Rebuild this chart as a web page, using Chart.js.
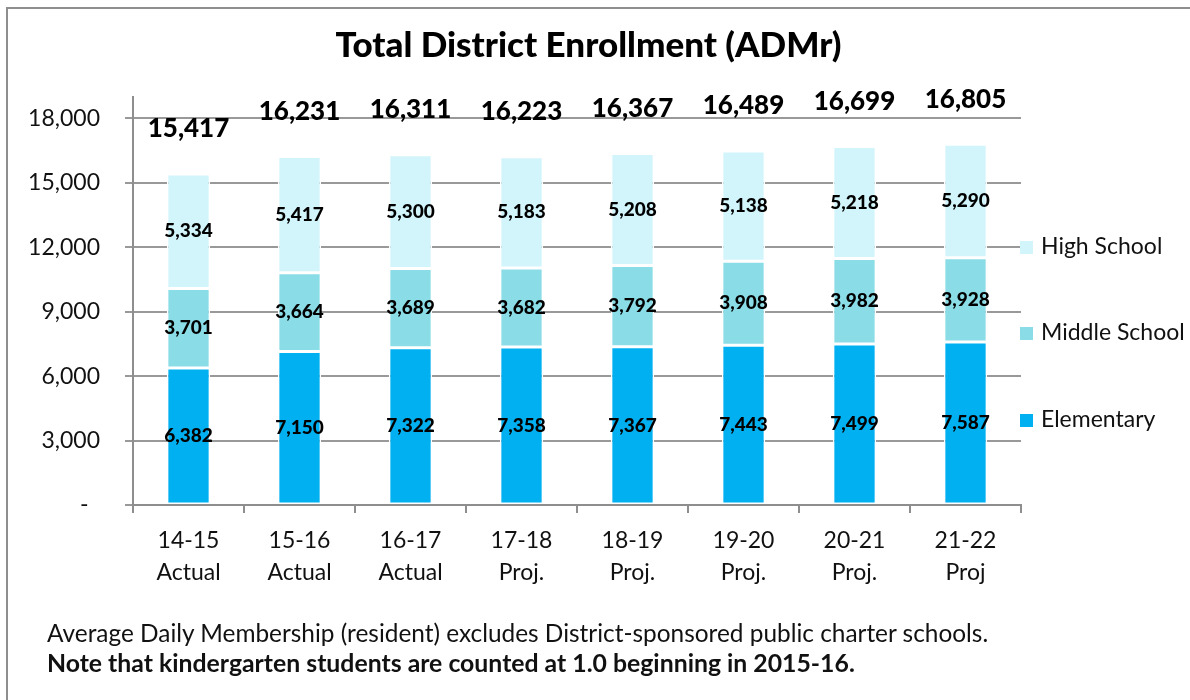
<!DOCTYPE html>
<html>
<head>
<meta charset="utf-8">
<script src="https://cdn.jsdelivr.net/npm/chart.js@4/dist/chart.umd.min.js"></script>
<style>
  html, body { margin: 0; padding: 0; background: #fff; }
  body { width: 1190px; height: 700px; position: relative; overflow: hidden; font-family: Lato, sans-serif; }
  .frame { position: absolute; left: 6px; top: 7px; width: 1300px; height: 800px; border-top: 2px solid #8e8e8e; border-left: 2px solid #8e8e8e; }
  .wrap { position: absolute; left: 0; top: 0; width: 1190px; height: 700px; }
  .note { position: absolute; left: 47px; font-size: 24.4px; line-height: 30px; color: #111; white-space: nowrap; }
  .note.first { top: 618px; }
  .note.second { top: 648px; font-weight: bold; font-size: 24.8px; }
</style>
</head>
<body>
<div class="frame"></div>
<div class="wrap"><canvas id="enrollChart" width="1190" height="700"></canvas></div>
<div class="note first">Average Daily Membership (resident) excludes District-sponsored public charter schools.</div>
<div class="note second">Note that kindergarten students are counted at 1.0 beginning in 2015-16.</div>

<script>
// --- Data ---
const years = [['14-15', 'Actual'], ['15-16', 'Actual'], ['16-17', 'Actual'], ['17-18', 'Proj.'],
               ['18-19', 'Proj.'], ['19-20', 'Proj.'], ['20-21', 'Proj.'], ['21-22', 'Proj']];
const elementary = [6382, 7150, 7322, 7358, 7367, 7443, 7499, 7587];
const middleSchool = [3701, 3664, 3689, 3682, 3792, 3908, 3982, 3928];
const highSchool = [5334, 5417, 5300, 5183, 5208, 5138, 5218, 5290];
const yTicks = [0, 3000, 6000, 9000, 12000, 15000, 18000];

const fmt = v => v.toLocaleString('en-US');

// value labels inside segments + totals above each stack
const valueLabels = {
    id: 'valueLabels',
    afterDatasetsDraw(chart) {
        const ctx = chart.ctx;
        ctx.save();
        ctx.fillStyle = '#000';
        ctx.textAlign = 'center';
        ctx.textBaseline = 'middle';
        ctx.font = '900 19px Lato';
        chart.data.datasets.forEach((ds, i) => {
            chart.getDatasetMeta(i).data.forEach((bar, j) => {
                ctx.fillText(fmt(ds.data[j]), bar.x, (bar.y + bar.base) / 2);
            });
        });
        // totals
        const last = chart.getDatasetMeta(chart.data.datasets.length - 1).data;
        ctx.font = '900 26px Lato';
        last.forEach((bar, j) => {
            const total = chart.data.datasets.reduce((s, ds) => s + ds.data[j], 0);
            ctx.fillText(fmt(total), bar.x, bar.y - 45);
        });
        ctx.restore();
    }
};

// legend on the right, top-down in reverse dataset order
const sideLegend = {
    id: 'sideLegend',
    afterDraw(chart) {
        const ctx = chart.ctx;
        const area = chart.chartArea;
        const offsets = [150, 236, 323];
        const sets = chart.data.datasets.slice().reverse();
        ctx.save();
        ctx.font = '23px Lato';
        ctx.textBaseline = 'middle';
        ctx.textAlign = 'left';
        sets.forEach((ds, k) => {
            const y = area.top + offsets[k];
            ctx.fillStyle = ds.backgroundColor;
            ctx.fillRect(area.right - 1, y - 6, 13, 13);
            ctx.fillStyle = '#111';
            ctx.fillText(ds.label, area.right + 20, y);
        });
        ctx.restore();
    }
};

new Chart(document.getElementById('enrollChart'), {
    type: 'bar',
    data: {
        labels: years,
        datasets: [
            { label: 'Elementary', data: elementary, backgroundColor: '#00B0F0' },
            { label: 'Middle School', data: middleSchool, backgroundColor: '#8ADDE7' },
            { label: 'High School', data: highSchool, backgroundColor: '#D2F5FC' }
        ]
    },
    options: {
        responsive: false,
        animation: false,
        layout: { padding: { left: 0, right: 13, top: 0, bottom: 0 } },
        datasets: {
            bar: {
                categoryPercentage: 1,
                barPercentage: 0.39,
                borderColor: '#ffffff',
                borderWidth: 1.5,
                borderSkipped: false
            }
        },
        scales: {
            x: {
                stacked: true,
                grid: { offset: true, drawOnChartArea: false, drawTicks: true, tickLength: 8, color: '#8e8e8e', lineWidth: 2 },
                border: { color: '#8e8e8e', width: 2 },
                ticks: { color: '#111', font: { family: 'Lato', size: 23, lineHeight: 1.4 }, padding: 11, maxRotation: 0 },
                afterFit(scale) { scale.height = 195; }
            },
            y: {
                stacked: true,
                min: 0,
                max: 19000,
                afterBuildTicks(scale) { scale.ticks = yTicks.map(v => ({ value: v })); },
                grid: { color: '#999', lineWidth: 2, tickLength: 8 },
                border: { color: '#8e8e8e', width: 2 },
                ticks: {
                    color: '#111',
                    font: { family: 'Lato', size: 23 },
                    padding: 25,
                    callback: v => v === 0 ? '-\u2002' : fmt(v)
                },
                afterFit(scale) { scale.width = 133; }
            },
            side: {
                position: 'right',
                display: true,
                grid: { display: false },
                border: { display: false },
                ticks: { display: false },
                afterFit(scale) { scale.width = 156; }
            }
        },
        plugins: {
            legend: { display: false },
            tooltip: { enabled: false },
            title: {
                display: true,
                text: 'Total District Enrollment (ADMr)',
                color: '#000',
                font: { family: 'Lato', size: 35, weight: 900, lineHeight: 1.2 },
                padding: { top: 25, bottom: 30 }
            }
        }
    },
    plugins: [valueLabels, sideLegend]
});
</script>
</body>
</html>
